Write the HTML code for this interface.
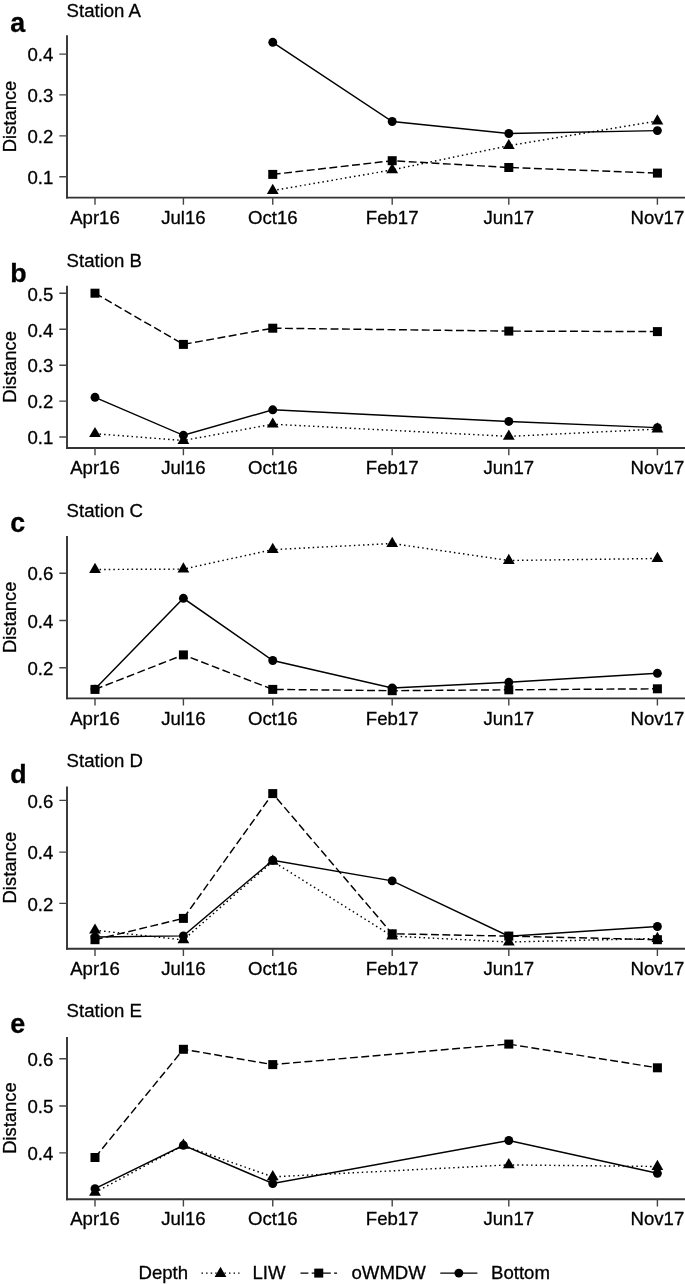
<!DOCTYPE html><html><head><meta charset="utf-8"><style>html,body{margin:0;padding:0;background:#fff;overflow:hidden;}svg{display:block;font-family:"Liberation Sans",sans-serif;will-change:transform;}text{stroke:#000;stroke-width:0.3px;paint-order:stroke;}</style></head><body>
<svg width="685" height="1284" viewBox="0 0 685 1284">
<rect width="685" height="1284" fill="#fff"/>
<text transform="translate(66.6 17.4) scale(1 0.95)" font-size="18.6" text-anchor="start">Station A</text>
<text transform="translate(10.2 31.6) scale(1 1)" font-size="26.8" text-anchor="start" font-weight="bold">a</text>
<text transform="translate(16 116.45) rotate(-90)" font-size="18.4" text-anchor="middle">Distance</text>
<g stroke="#333333" fill="none">
<path d="M67 35.3V198.55" stroke-width="1.9"/>
<path d="M66.05 197.6H685" stroke-width="1.9"/>
<path d="M95 197.6V204.8M183.4 197.6V204.8M272.75 197.6V204.8M392.2 197.6V204.8M508.8 197.6V204.8M657.4 197.6V204.8M59.3 176.7H67M59.3 135.9H67M59.3 94.9H67M59.3 54.1H67" stroke="#444444" stroke-width="1.4"/>
</g>
<text transform="translate(95 223.7) scale(1 0.95)" font-size="18.6" text-anchor="middle">Apr16</text>
<text transform="translate(183.4 223.7) scale(1 0.95)" font-size="18.6" text-anchor="middle">Jul16</text>
<text transform="translate(272.75 223.7) scale(1 0.95)" font-size="18.6" text-anchor="middle">Oct16</text>
<text transform="translate(392.2 223.7) scale(1 0.95)" font-size="18.6" text-anchor="middle">Feb17</text>
<text transform="translate(508.8 223.7) scale(1 0.95)" font-size="18.6" text-anchor="middle">Jun17</text>
<text transform="translate(657.4 223.7) scale(1 0.95)" font-size="18.6" text-anchor="middle">Nov17</text>
<text transform="translate(53.3 183.9) scale(1 0.95)" font-size="18.6" text-anchor="end">0.1</text>
<text transform="translate(53.3 143.1) scale(1 0.95)" font-size="18.6" text-anchor="end">0.2</text>
<text transform="translate(53.3 102.1) scale(1 0.95)" font-size="18.6" text-anchor="end">0.3</text>
<text transform="translate(53.3 61.3) scale(1 0.95)" font-size="18.6" text-anchor="end">0.4</text>
<g fill="none" stroke="#000" stroke-width="1.45">
<polyline points="272.75,190.6 392.2,169.9 508.8,145.7 657.4,121" stroke-dasharray="1.5 3.08"/>
<polyline points="272.75,174.4 392.2,160.7 508.8,167.5 657.4,173.1" stroke-dasharray="7.9 3.5"/>
<polyline points="272.75,42.3 392.2,121.5 508.8,133.5 657.4,130.6"/>
</g>
<g fill="#000">
<path d="M272.75 183.79L278.65 194.01L266.85 194.01Z"/>
<path d="M392.2 163.09L398.1 173.31L386.3 173.31Z"/>
<path d="M508.8 138.89L514.7 149.11L502.9 149.11Z"/>
<path d="M657.4 114.19L663.3 124.41L651.5 124.41Z"/>
<rect x="268.25" y="169.9" width="9" height="9"/>
<rect x="387.7" y="156.2" width="9" height="9"/>
<rect x="504.3" y="163" width="9" height="9"/>
<rect x="652.9" y="168.6" width="9" height="9"/>
<circle cx="272.75" cy="42.3" r="4.45"/>
<circle cx="392.2" cy="121.5" r="4.45"/>
<circle cx="508.8" cy="133.5" r="4.45"/>
<circle cx="657.4" cy="130.6" r="4.45"/>
</g>
<text transform="translate(66.6 267.4) scale(1 0.95)" font-size="18.6" text-anchor="start">Station B</text>
<text transform="translate(10.2 282) scale(1 0.93)" font-size="26.8" text-anchor="start" font-weight="bold">b</text>
<text transform="translate(16 366.85) rotate(-90)" font-size="18.4" text-anchor="middle">Distance</text>
<g stroke="#333333" fill="none">
<path d="M67 285.7V448.95" stroke-width="1.9"/>
<path d="M66.05 448H685" stroke-width="1.9"/>
<path d="M95 448V455.2M183.4 448V455.2M272.75 448V455.2M392.2 448V455.2M508.8 448V455.2M657.4 448V455.2M59.3 437H67M59.3 401.1H67M59.3 365.2H67M59.3 329.3H67M59.3 293.3H67" stroke="#444444" stroke-width="1.4"/>
</g>
<text transform="translate(95 474.1) scale(1 0.95)" font-size="18.6" text-anchor="middle">Apr16</text>
<text transform="translate(183.4 474.1) scale(1 0.95)" font-size="18.6" text-anchor="middle">Jul16</text>
<text transform="translate(272.75 474.1) scale(1 0.95)" font-size="18.6" text-anchor="middle">Oct16</text>
<text transform="translate(392.2 474.1) scale(1 0.95)" font-size="18.6" text-anchor="middle">Feb17</text>
<text transform="translate(508.8 474.1) scale(1 0.95)" font-size="18.6" text-anchor="middle">Jun17</text>
<text transform="translate(657.4 474.1) scale(1 0.95)" font-size="18.6" text-anchor="middle">Nov17</text>
<text transform="translate(53.3 444.2) scale(1 0.95)" font-size="18.6" text-anchor="end">0.1</text>
<text transform="translate(53.3 408.3) scale(1 0.95)" font-size="18.6" text-anchor="end">0.2</text>
<text transform="translate(53.3 372.4) scale(1 0.95)" font-size="18.6" text-anchor="end">0.3</text>
<text transform="translate(53.3 336.5) scale(1 0.95)" font-size="18.6" text-anchor="end">0.4</text>
<text transform="translate(53.3 300.5) scale(1 0.95)" font-size="18.6" text-anchor="end">0.5</text>
<g fill="none" stroke="#000" stroke-width="1.45">
<polyline points="95,433.7 183.4,440.5 272.75,424.2 508.8,436.4 657.4,429.1" stroke-dasharray="1.5 3.08"/>
<polyline points="95,293.2 183.4,344.4 272.75,328.2 508.8,331.1 657.4,331.6" stroke-dasharray="7.9 3.5"/>
<polyline points="95,397.3 183.4,435.3 272.75,409.8 508.8,421.45 657.4,427.6"/>
</g>
<g fill="#000">
<path d="M95 426.89L100.9 437.11L89.1 437.11Z"/>
<path d="M183.4 433.69L189.3 443.91L177.5 443.91Z"/>
<path d="M272.75 417.39L278.65 427.61L266.85 427.61Z"/>
<path d="M508.8 429.59L514.7 439.81L502.9 439.81Z"/>
<path d="M657.4 422.29L663.3 432.51L651.5 432.51Z"/>
<rect x="90.5" y="288.7" width="9" height="9"/>
<rect x="178.9" y="339.9" width="9" height="9"/>
<rect x="268.25" y="323.7" width="9" height="9"/>
<rect x="504.3" y="326.6" width="9" height="9"/>
<rect x="652.9" y="327.1" width="9" height="9"/>
<circle cx="95" cy="397.3" r="4.45"/>
<circle cx="183.4" cy="435.3" r="4.45"/>
<circle cx="272.75" cy="409.8" r="4.45"/>
<circle cx="508.8" cy="421.45" r="4.45"/>
<circle cx="657.4" cy="427.6" r="4.45"/>
</g>
<text transform="translate(66.6 517.4) scale(1 0.95)" font-size="18.6" text-anchor="start">Station C</text>
<text transform="translate(10.2 532.4) scale(1 1)" font-size="26.8" text-anchor="start" font-weight="bold">c</text>
<text transform="translate(16 617.25) rotate(-90)" font-size="18.4" text-anchor="middle">Distance</text>
<g stroke="#333333" fill="none">
<path d="M67 536.1V699.35" stroke-width="1.9"/>
<path d="M66.05 698.4H685" stroke-width="1.9"/>
<path d="M95 698.4V705.6M183.4 698.4V705.6M272.75 698.4V705.6M392.2 698.4V705.6M508.8 698.4V705.6M657.4 698.4V705.6M59.3 667.8H67M59.3 620.5H67M59.3 573.2H67" stroke="#444444" stroke-width="1.4"/>
</g>
<text transform="translate(95 724.5) scale(1 0.95)" font-size="18.6" text-anchor="middle">Apr16</text>
<text transform="translate(183.4 724.5) scale(1 0.95)" font-size="18.6" text-anchor="middle">Jul16</text>
<text transform="translate(272.75 724.5) scale(1 0.95)" font-size="18.6" text-anchor="middle">Oct16</text>
<text transform="translate(392.2 724.5) scale(1 0.95)" font-size="18.6" text-anchor="middle">Feb17</text>
<text transform="translate(508.8 724.5) scale(1 0.95)" font-size="18.6" text-anchor="middle">Jun17</text>
<text transform="translate(657.4 724.5) scale(1 0.95)" font-size="18.6" text-anchor="middle">Nov17</text>
<text transform="translate(53.3 675) scale(1 0.95)" font-size="18.6" text-anchor="end">0.2</text>
<text transform="translate(53.3 627.7) scale(1 0.95)" font-size="18.6" text-anchor="end">0.4</text>
<text transform="translate(53.3 580.4) scale(1 0.95)" font-size="18.6" text-anchor="end">0.6</text>
<g fill="none" stroke="#000" stroke-width="1.45">
<polyline points="95,569.5 183.4,569.1 272.75,549.6 392.2,543.5 508.8,560.5 657.4,558.5" stroke-dasharray="1.5 3.08"/>
<polyline points="95,689.4 183.4,654.9 272.75,689.4 392.2,690.7 508.8,689.8 657.4,688.8" stroke-dasharray="7.9 3.5"/>
<polyline points="95,689.1 183.4,598.3 272.75,660.5 392.2,688 508.8,682.3 657.4,673.3"/>
</g>
<g fill="#000">
<path d="M95 562.69L100.9 572.91L89.1 572.91Z"/>
<path d="M183.4 562.29L189.3 572.51L177.5 572.51Z"/>
<path d="M272.75 542.79L278.65 553.01L266.85 553.01Z"/>
<path d="M392.2 536.69L398.1 546.91L386.3 546.91Z"/>
<path d="M508.8 553.69L514.7 563.91L502.9 563.91Z"/>
<path d="M657.4 551.69L663.3 561.91L651.5 561.91Z"/>
<rect x="90.5" y="684.9" width="9" height="9"/>
<rect x="178.9" y="650.4" width="9" height="9"/>
<rect x="268.25" y="684.9" width="9" height="9"/>
<rect x="387.7" y="686.2" width="9" height="9"/>
<rect x="504.3" y="685.3" width="9" height="9"/>
<rect x="652.9" y="684.3" width="9" height="9"/>
<circle cx="95" cy="689.1" r="4.45"/>
<circle cx="183.4" cy="598.3" r="4.45"/>
<circle cx="272.75" cy="660.5" r="4.45"/>
<circle cx="392.2" cy="688" r="4.45"/>
<circle cx="508.8" cy="682.3" r="4.45"/>
<circle cx="657.4" cy="673.3" r="4.45"/>
</g>
<text transform="translate(66.6 767.4) scale(1 0.95)" font-size="18.6" text-anchor="start">Station D</text>
<text transform="translate(10.2 782.8) scale(1 0.93)" font-size="26.8" text-anchor="start" font-weight="bold">d</text>
<text transform="translate(16 867.65) rotate(-90)" font-size="18.4" text-anchor="middle">Distance</text>
<g stroke="#333333" fill="none">
<path d="M67 786.5V949.75" stroke-width="1.9"/>
<path d="M66.05 948.8H685" stroke-width="1.9"/>
<path d="M95 948.8V956M183.4 948.8V956M272.75 948.8V956M392.2 948.8V956M508.8 948.8V956M657.4 948.8V956M59.3 903.4H67M59.3 852.1H67M59.3 800.4H67" stroke="#444444" stroke-width="1.4"/>
</g>
<text transform="translate(95 974.9) scale(1 0.95)" font-size="18.6" text-anchor="middle">Apr16</text>
<text transform="translate(183.4 974.9) scale(1 0.95)" font-size="18.6" text-anchor="middle">Jul16</text>
<text transform="translate(272.75 974.9) scale(1 0.95)" font-size="18.6" text-anchor="middle">Oct16</text>
<text transform="translate(392.2 974.9) scale(1 0.95)" font-size="18.6" text-anchor="middle">Feb17</text>
<text transform="translate(508.8 974.9) scale(1 0.95)" font-size="18.6" text-anchor="middle">Jun17</text>
<text transform="translate(657.4 974.9) scale(1 0.95)" font-size="18.6" text-anchor="middle">Nov17</text>
<text transform="translate(53.3 910.6) scale(1 0.95)" font-size="18.6" text-anchor="end">0.2</text>
<text transform="translate(53.3 859.3) scale(1 0.95)" font-size="18.6" text-anchor="end">0.4</text>
<text transform="translate(53.3 807.6) scale(1 0.95)" font-size="18.6" text-anchor="end">0.6</text>
<g fill="none" stroke="#000" stroke-width="1.45">
<polyline points="95,930.2 183.4,939.9 272.75,861.4 392.2,936.1 508.8,942 657.4,938.5" stroke-dasharray="1.5 3.08"/>
<polyline points="95,939.7 183.4,918.4 272.75,793.6 392.2,933.8 508.8,936.1 657.4,939.7" stroke-dasharray="7.9 3.5"/>
<polyline points="95,937 183.4,935.9 272.75,860.2 392.2,880.9 508.8,936.2 657.4,926.5"/>
</g>
<g fill="#000">
<path d="M95 923.39L100.9 933.61L89.1 933.61Z"/>
<path d="M183.4 933.09L189.3 943.31L177.5 943.31Z"/>
<path d="M272.75 854.59L278.65 864.81L266.85 864.81Z"/>
<path d="M392.2 929.29L398.1 939.51L386.3 939.51Z"/>
<path d="M508.8 935.19L514.7 945.41L502.9 945.41Z"/>
<path d="M657.4 931.69L663.3 941.91L651.5 941.91Z"/>
<rect x="90.5" y="935.2" width="9" height="9"/>
<rect x="178.9" y="913.9" width="9" height="9"/>
<rect x="268.25" y="789.1" width="9" height="9"/>
<rect x="387.7" y="929.3" width="9" height="9"/>
<rect x="504.3" y="931.6" width="9" height="9"/>
<rect x="652.9" y="935.2" width="9" height="9"/>
<circle cx="95" cy="937" r="4.45"/>
<circle cx="183.4" cy="935.9" r="4.45"/>
<circle cx="272.75" cy="860.2" r="4.45"/>
<circle cx="392.2" cy="880.9" r="4.45"/>
<circle cx="508.8" cy="936.2" r="4.45"/>
<circle cx="657.4" cy="926.5" r="4.45"/>
</g>
<text transform="translate(66.6 1017.4) scale(1 0.95)" font-size="18.6" text-anchor="start">Station E</text>
<text transform="translate(10.2 1033.2) scale(1 1)" font-size="26.8" text-anchor="start" font-weight="bold">e</text>
<text transform="translate(16 1118.05) rotate(-90)" font-size="18.4" text-anchor="middle">Distance</text>
<g stroke="#333333" fill="none">
<path d="M67 1036.9V1200.15" stroke-width="1.9"/>
<path d="M66.05 1199.2H685" stroke-width="1.9"/>
<path d="M95 1199.2V1206.4M183.4 1199.2V1206.4M272.75 1199.2V1206.4M392.2 1199.2V1206.4M508.8 1199.2V1206.4M657.4 1199.2V1206.4M59.3 1152.9H67M59.3 1106H67M59.3 1058.7H67" stroke="#444444" stroke-width="1.4"/>
</g>
<text transform="translate(95 1225.3) scale(1 0.95)" font-size="18.6" text-anchor="middle">Apr16</text>
<text transform="translate(183.4 1225.3) scale(1 0.95)" font-size="18.6" text-anchor="middle">Jul16</text>
<text transform="translate(272.75 1225.3) scale(1 0.95)" font-size="18.6" text-anchor="middle">Oct16</text>
<text transform="translate(392.2 1225.3) scale(1 0.95)" font-size="18.6" text-anchor="middle">Feb17</text>
<text transform="translate(508.8 1225.3) scale(1 0.95)" font-size="18.6" text-anchor="middle">Jun17</text>
<text transform="translate(657.4 1225.3) scale(1 0.95)" font-size="18.6" text-anchor="middle">Nov17</text>
<text transform="translate(53.3 1160.1) scale(1 0.95)" font-size="18.6" text-anchor="end">0.4</text>
<text transform="translate(53.3 1113.2) scale(1 0.95)" font-size="18.6" text-anchor="end">0.5</text>
<text transform="translate(53.3 1065.9) scale(1 0.95)" font-size="18.6" text-anchor="end">0.6</text>
<g fill="none" stroke="#000" stroke-width="1.45">
<polyline points="95,1192.4 183.4,1145.4 272.75,1176.9 508.8,1164.9 657.4,1166.5" stroke-dasharray="1.5 3.08"/>
<polyline points="95,1157.5 183.4,1049.3 272.75,1064.6 508.8,1044.1 657.4,1067.8" stroke-dasharray="7.9 3.5"/>
<polyline points="95,1188.7 183.4,1145.3 272.75,1183.5 508.8,1140.5 657.4,1173.3"/>
</g>
<g fill="#000">
<path d="M95 1185.59L100.9 1195.81L89.1 1195.81Z"/>
<path d="M183.4 1138.59L189.3 1148.81L177.5 1148.81Z"/>
<path d="M272.75 1170.09L278.65 1180.31L266.85 1180.31Z"/>
<path d="M508.8 1158.09L514.7 1168.31L502.9 1168.31Z"/>
<path d="M657.4 1159.69L663.3 1169.91L651.5 1169.91Z"/>
<rect x="90.5" y="1153" width="9" height="9"/>
<rect x="178.9" y="1044.8" width="9" height="9"/>
<rect x="268.25" y="1060.1" width="9" height="9"/>
<rect x="504.3" y="1039.6" width="9" height="9"/>
<rect x="652.9" y="1063.3" width="9" height="9"/>
<circle cx="95" cy="1188.7" r="4.45"/>
<circle cx="183.4" cy="1145.3" r="4.45"/>
<circle cx="272.75" cy="1183.5" r="4.45"/>
<circle cx="508.8" cy="1140.5" r="4.45"/>
<circle cx="657.4" cy="1173.3" r="4.45"/>
</g>
<text transform="translate(138.5 1279.2) scale(1 0.95)" font-size="18.6" text-anchor="start">Depth</text>
<g fill="none" stroke="#000" stroke-width="1.45">
<path d="M201.5 1273.1H239.5" stroke-dasharray="1.5 3.08"/>
<path d="M300.5 1273.1H337" stroke-dasharray="7.9 3.3"/>
<path d="M440.3 1273.1H477.4"/>
</g><g fill="#000">
<path d="M220.5 1266.79L226.4 1277.01L214.6 1277.01Z"/>
<rect x="314.25" y="1268.6" width="9" height="9"/>
<circle cx="458.85" cy="1273.1" r="4.45"/>
</g>
<text transform="translate(252.5 1279.2) scale(1 0.95)" font-size="18.6" text-anchor="start">LIW</text>
<text transform="translate(351.5 1279.2) scale(1 0.95)" font-size="18.6" text-anchor="start">oWMDW</text>
<text transform="translate(491 1279.2) scale(1 0.95)" font-size="18.6" text-anchor="start">Bottom</text>
</svg></body></html>
